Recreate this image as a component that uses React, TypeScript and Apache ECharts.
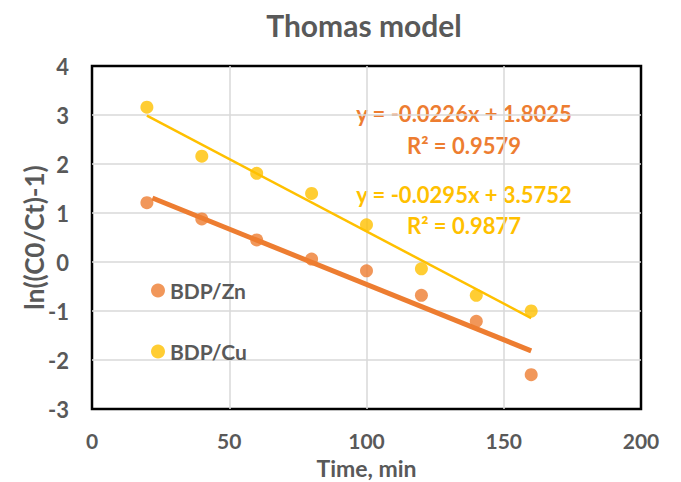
import React, { useEffect, useRef } from "react";
import * as echarts from "echarts";

const timeZn = [20, 40, 60, 80, 100, 120, 140, 160];
const valuesZn = [1.21, 0.88, 0.45, 0.06, -0.18, -0.68, -1.21, -2.3];
const timeCu = [20, 40, 60, 80, 100, 120, 140, 160];
const valuesCu = [3.16, 2.16, 1.81, 1.4, 0.76, -0.14, -0.68, -1.0];
const seriesNames = ["BDP/Zn", "BDP/Cu"];
const trendSlopes = [-0.0226, -0.0295];
const trendIntercepts = [1.8025, 3.5752];
const trendRanges = [[22, 160], [20, 160]];
const equationTexts = ["y = -0.0226x + 1.8025", "y = -0.0295x + 3.5752"];
const r2Texts = ["R² = 0.9579", "R² = 0.9877"];
const xTicks = [0, 50, 100, 150, 200];
const yTicks = [-3, -2, -1, 0, 1, 2, 3, 4];

const ORANGE = "#ED7D31";
const YELLOW = "#FFC000";
const GRAY = "#595959";
const FONT = "Lato";

function trend(i: number) {
  return trendRanges[i].map((x) => [x, trendSlopes[i] * x + trendIntercepts[i]]);
}

export default function App() {
  const ref = useRef<HTMLDivElement>(null);
  useEffect(() => {
    if (!ref.current) return;
    const chart = echarts.init(ref.current, null, { renderer: "svg" });
    chart.setOption({
      animation: false,
      backgroundColor: "#fff",
      title: {
        text: "Thomas model",
        left: 359,
        top: 5,
        textAlign: "center",
        textStyle: { fontFamily: FONT, fontWeight: "bold", fontSize: 30, color: GRAY },
      },
      grid: {
        left: 92,
        right: 40,
        top: 66,
        bottom: 73,
        outerBoundsMode: "none",
        containLabel: false,
        show: true,
        borderColor: "#000",
        borderWidth: 2.5,
      },
      legend: {
        data: seriesNames,
        orient: "vertical",
        left: 146,
        top: 275,
        itemGap: 40,
        itemWidth: 14,
        itemHeight: 14,
        icon: "circle",
        textStyle: { fontFamily: FONT, fontWeight: "bold", fontSize: 21, color: GRAY },
      },
      xAxis: {
        type: "value",
        min: xTicks[0],
        max: xTicks[xTicks.length - 1],
        interval: 50,
        name: "Time, min",
        nameLocation: "middle",
        nameGap: 47,
        nameMoveOverlap: false,
        nameTextStyle: { fontFamily: FONT, fontWeight: "bold", fontSize: 23, color: GRAY, verticalAlign: "top", lineHeight: 23 },
        axisLine: { show: false },
        axisTick: { show: false },
        axisLabel: { margin: 21, fontFamily: FONT, fontWeight: "bold", fontSize: 21, lineHeight: 21, color: GRAY },
        splitLine: { show: true, showMinLine: false, showMaxLine: false, lineStyle: { color: "#d9d9d9", width: 1.5 } },
      },
      yAxis: {
        type: "value",
        min: yTicks[0],
        max: yTicks[yTicks.length - 1],
        interval: 1,
        name: "ln((C0/Ct)-1)",
        nameLocation: "middle",
        nameGap: 45,
        nameMoveOverlap: false,
        nameTextStyle: { fontFamily: FONT, fontWeight: "bold", fontSize: 26, color: GRAY },
        axisLine: { show: false },
        axisTick: { show: false },
        axisLabel: { margin: 23, fontFamily: FONT, fontWeight: "bold", fontSize: 22, color: GRAY },
        splitLine: { show: true, showMinLine: false, showMaxLine: false, lineStyle: { color: "#d9d9d9", width: 1.5 } },
      },
      series: [
        {
          name: seriesNames[0] + " trend",
          type: "line",
          data: trend(0),
          symbol: "none",
          lineStyle: { color: ORANGE, width: 5 },
          z: 2,
        },
        {
          name: seriesNames[1] + " trend",
          type: "line",
          data: trend(1),
          symbol: "none",
          lineStyle: { color: YELLOW, width: 2.5 },
          z: 2,
        },
        {
          name: seriesNames[0],
          type: "scatter",
          data: timeZn.map((t, i) => [t, valuesZn[i]]),
          symbolSize: 13,
          itemStyle: { color: ORANGE },
          z: 3,
        },
        {
          name: seriesNames[1],
          type: "scatter",
          data: timeCu.map((t, i) => [t, valuesCu[i]]),
          symbolSize: 13,
          itemStyle: { color: YELLOW },
          z: 3,
        },
      ],
      graphic: [
        { type: "text", x: 464, y: 113, style: { text: equationTexts[0], fill: ORANGE, font: `bold 22px ${FONT}`, align: "center", verticalAlign: "middle" } },
        { type: "text", x: 464, y: 145, style: { text: r2Texts[0], fill: ORANGE, font: `bold 22px ${FONT}`, align: "center", verticalAlign: "middle" } },
        { type: "text", x: 464, y: 194, style: { text: equationTexts[1], fill: YELLOW, font: `bold 22px ${FONT}`, align: "center", verticalAlign: "middle" } },
        { type: "text", x: 464, y: 225, style: { text: r2Texts[1], fill: YELLOW, font: `bold 22px ${FONT}`, align: "center", verticalAlign: "middle" } },
      ],
    });
    return () => chart.dispose();
  }, []);
  return <div ref={ref} style={{ width: 681, height: 482, position: "absolute", left: 0, top: 0 }} />;
}
